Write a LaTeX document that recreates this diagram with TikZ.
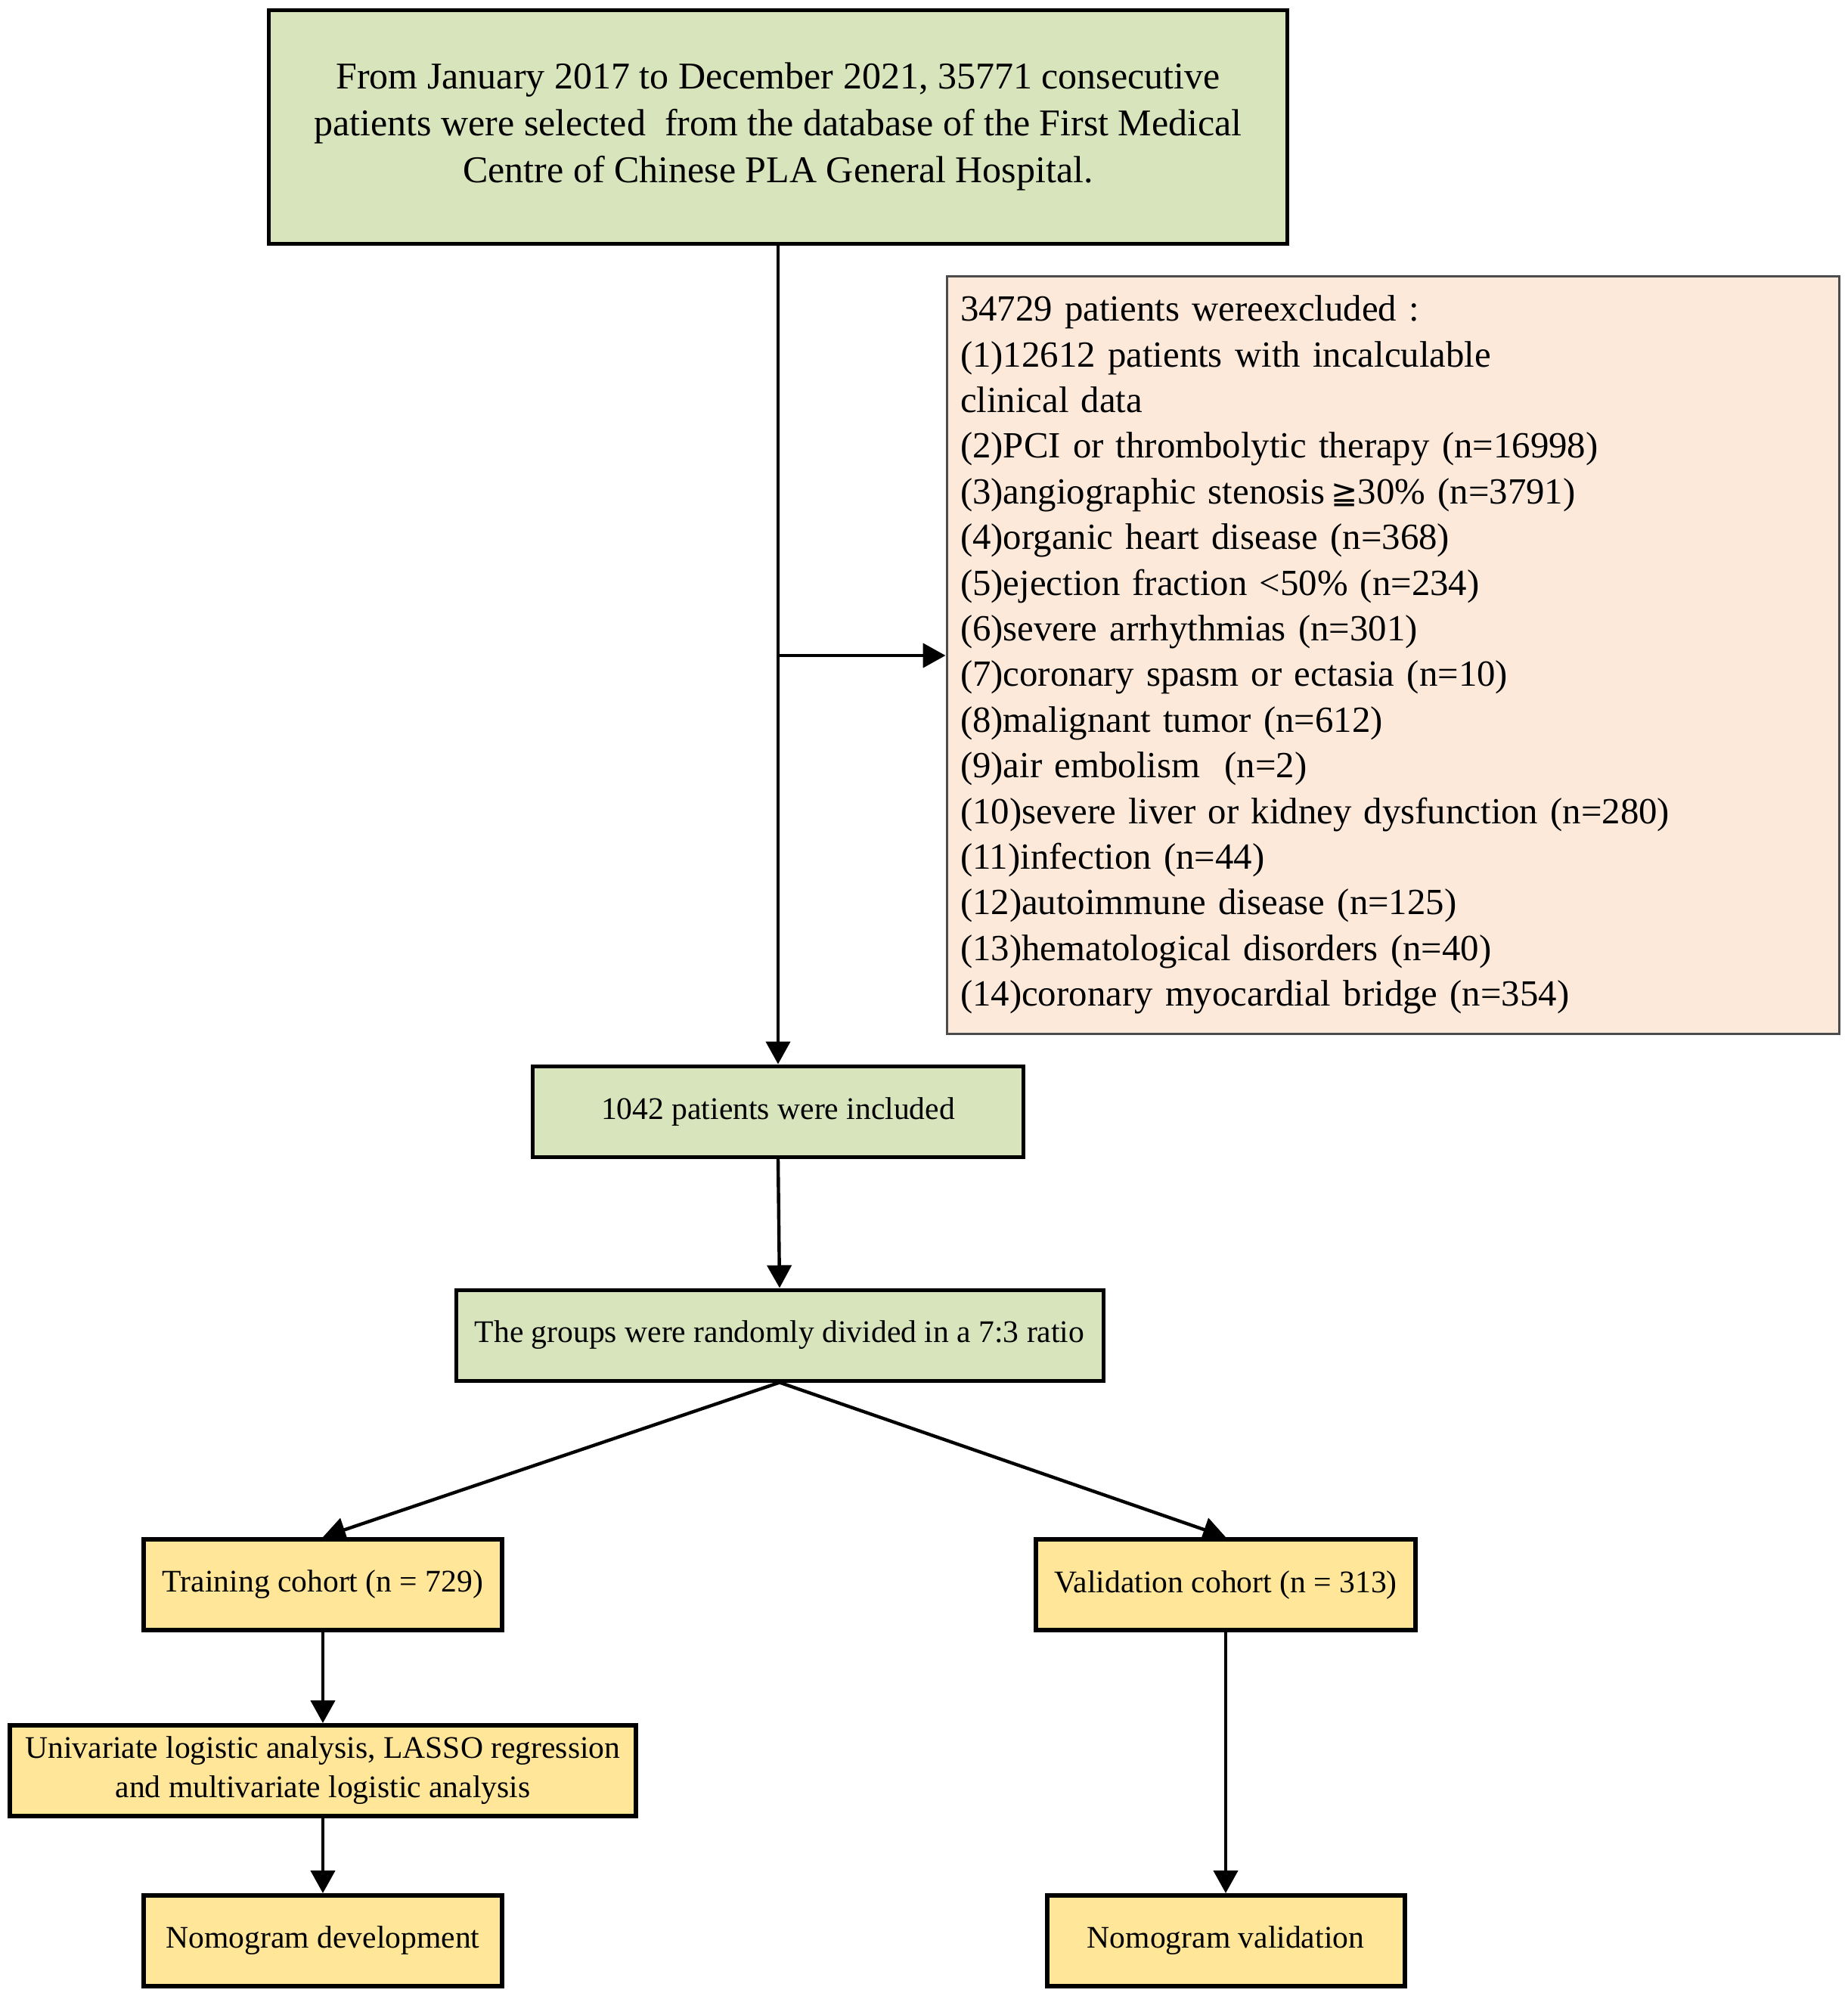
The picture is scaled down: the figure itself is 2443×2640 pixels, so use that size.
\documentclass[tikz,border=0pt]{standalone}
\usepackage{fontspec}
\setmainfont{Liberation Serif}
\newfontfamily\symfont{DejaVu Sans}
\usetikzlibrary{arrows.meta}
\definecolor{boxgreen}{HTML}{D8E4BC}
\definecolor{boxpeach}{HTML}{FCE9DA}
\definecolor{boxyellow}{HTML}{FFE699}
\begin{document}
\begin{tikzpicture}[x=0.5pt,y=-0.5pt,
  gbox/.style={draw=black, line width=2.5pt, fill=boxgreen, inner sep=0pt, align=center,
    minimum height=60pt, font=\fontsize{20.8}{26}\selectfont},
  ybox/.style={gbox, fill=boxyellow, line width=3pt},
  arr/.style={line width=2.2pt, -{Triangle[length=15pt,width=16pt]}},
  ln/.style={line width=2.2pt}]
\useasboundingbox (0,0) rectangle (2443,2640);
\node[gbox, minimum width=673.5pt, minimum height=154.5pt, font=\fontsize{25}{31}\selectfont] (top) at (1029,167.5)
  {From January 2017 to December 2021, 35771 consecutive\\
   patients were selected \ from the database of the First Medical\\
   Centre of Chinese PLA General Hospital.};
\node[draw=black!70, line width=1.5pt, fill=boxpeach, inner ysep=0pt, inner xsep=9pt,
  text width=572pt, minimum height=501pt, align=left,
  font=\fontsize{24.4}{30.2}\selectfont] (excl) at (1842,866)
  {\rule{0pt}{10pt}34729 patients wereexcluded :\\
   (1)12612 patients with incalculable\\
   clinical data\\
   (2)PCI or thrombolytic therapy (n=16998)\\
   (3)angiographic stenosis\,{\symfont\fontsize{21}{30.2}\selectfont ≧}30\% (n=3791)\\
   (4)organic heart disease (n=368)\\
   (5)ejection fraction <50\% (n=234)\\
   (6)severe arrhythmias (n=301)\\
   (7)coronary spasm or ectasia (n=10)\\
   (8)malignant tumor (n=612)\\
   (9)air embolism \ (n=2)\\
   (10)severe liver or kidney dysfunction (n=280)\\
   (11)infection (n=44)\\
   (12)autoimmune disease (n=125)\\
   (13)hematological disorders (n=40)\\
   (14)coronary myocardial bridge (n=354)};
\node[gbox, minimum width=324.5pt] (incl) at (1029,1470) {1042 patients were included};
\node[gbox, minimum width=428pt] (groups) at (1031,1766) {The groups were randomly divided in a 7:3 ratio};
\node[ybox, minimum width=237pt] (train) at (427,2096) {Training cohort (n = 729)};
\node[ybox, minimum width=251pt] (valid) at (1621,2096) {Validation cohort (n = 313)};
\node[ybox, minimum width=414pt] (univ) at (427,2342) {Univariate logistic analysis, LASSO regression\\ and multivariate logistic analysis};
\node[ybox, minimum width=237pt] (nomdev) at (427,2567) {Nomogram development};
\node[ybox, minimum width=236.5pt] (nomval) at (1621,2567) {Nomogram validation};
\coordinate (br) at (1029,867);
\draw[arr] (top.south) -- (incl.north);
\draw[arr] (br) -- (excl.west |- br);
\draw[arr] (incl.south) -- (groups.north);
\draw[arr] (groups.south) -- (train.north);
\draw[arr] (groups.south) -- (valid.north);
\draw[arr] (train.south) -- (univ.north);
\draw[arr] (univ.south) -- (nomdev.north);
\draw[arr] (valid.south) -- (nomval.north);
\end{tikzpicture}
\end{document}
